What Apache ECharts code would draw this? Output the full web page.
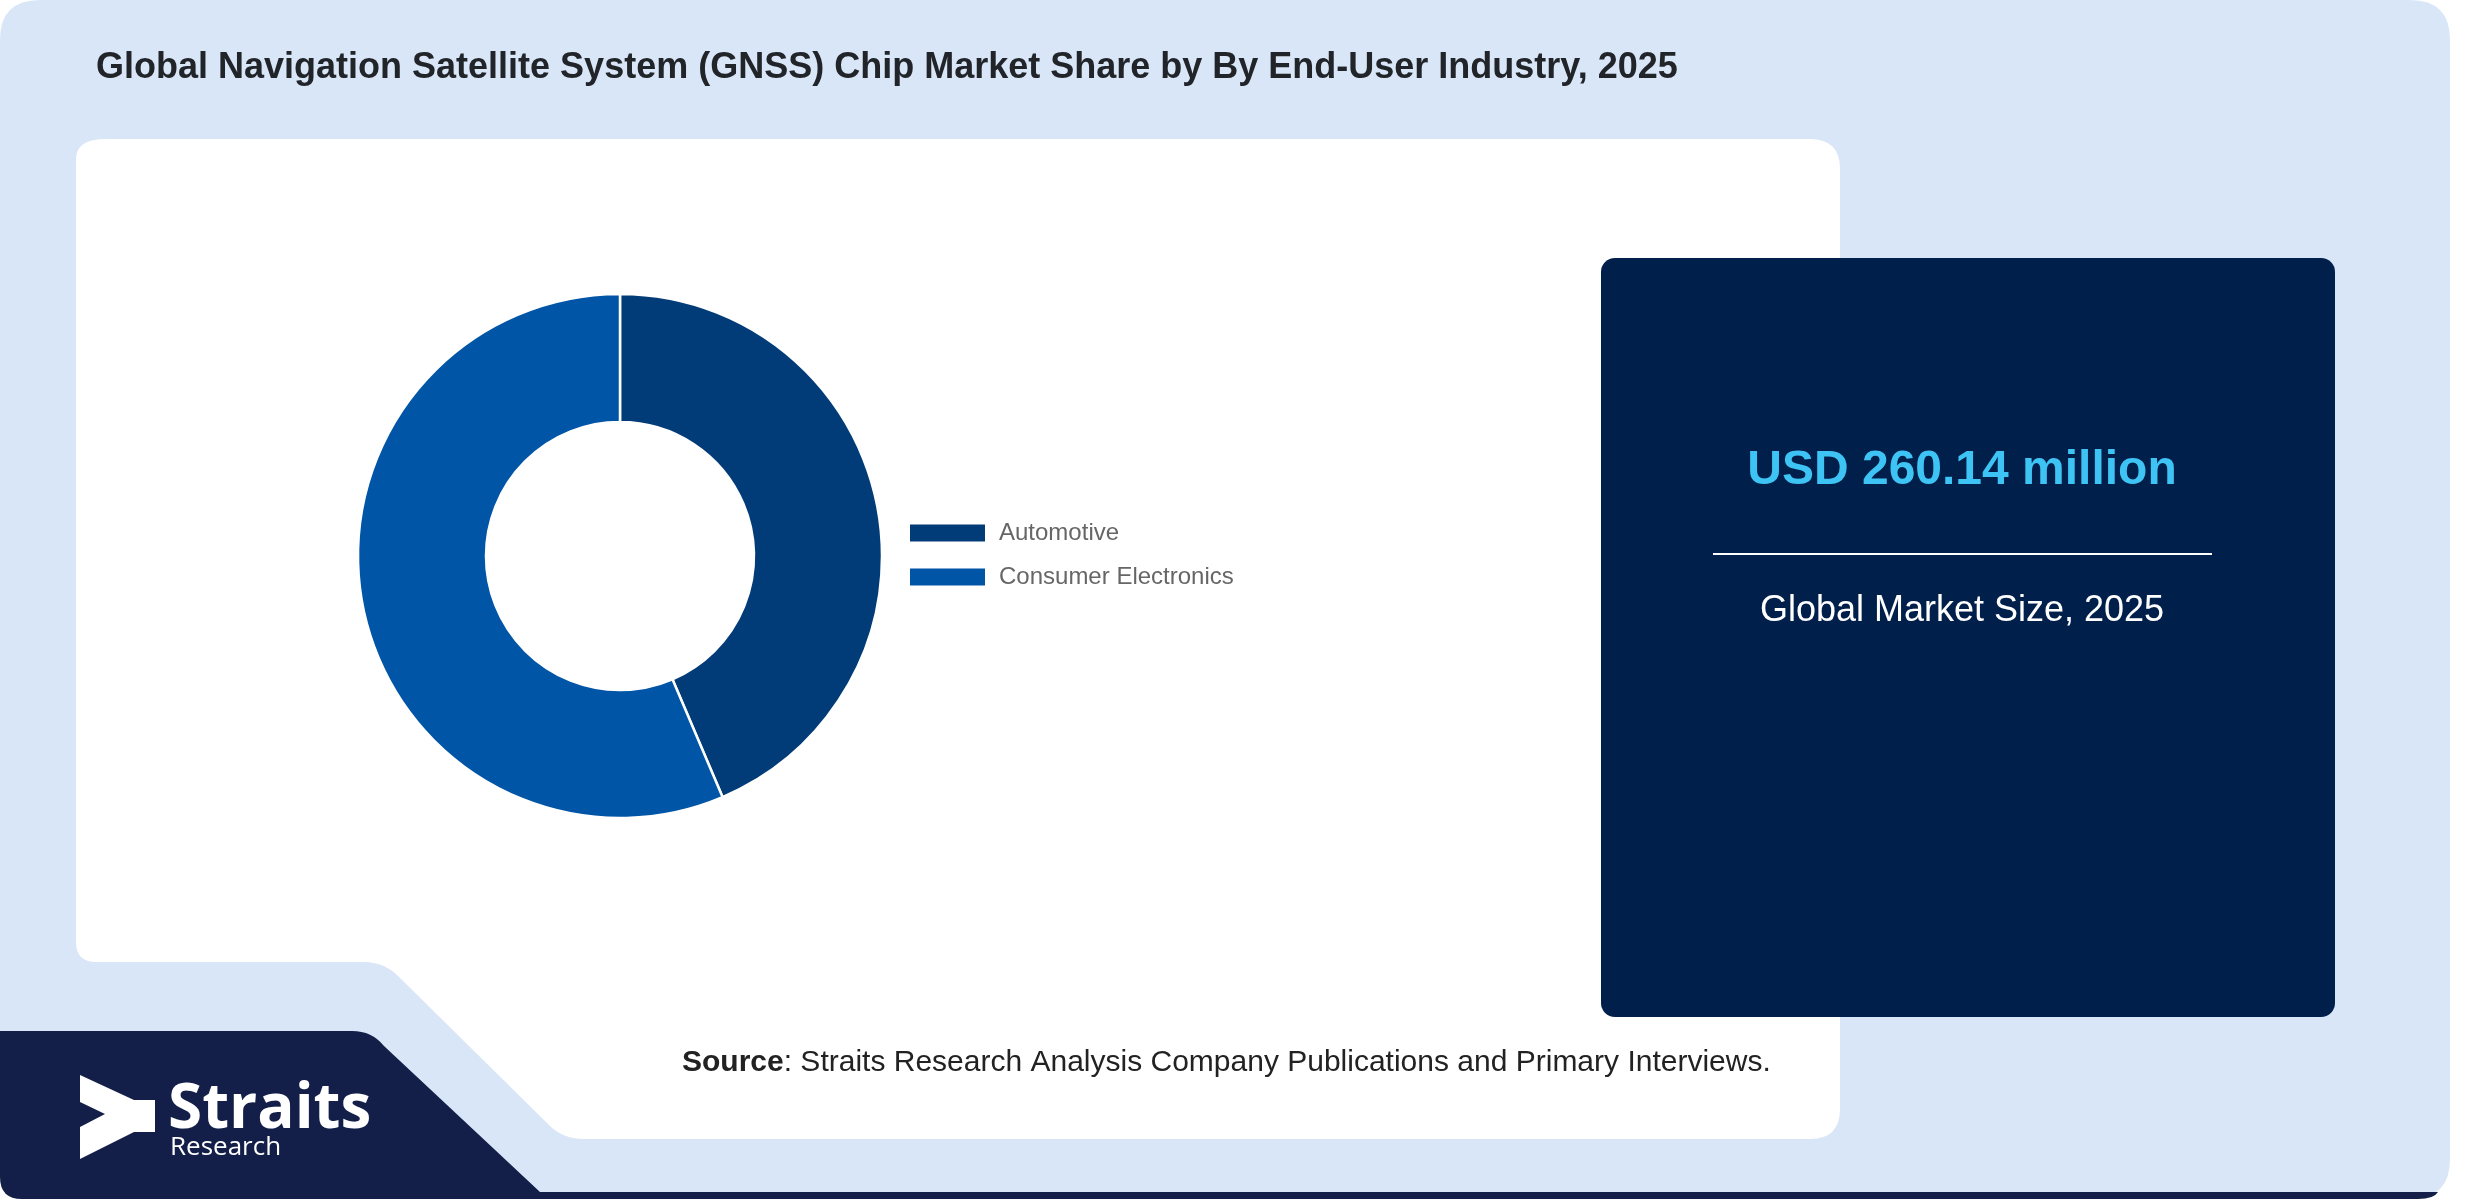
<!DOCTYPE html>
<html>
<head>
<meta charset="utf-8">
<script src="https://cdn.jsdelivr.net/npm/echarts@6/dist/echarts.min.js"></script>
<style>
  html, body { margin: 0; padding: 0; background: #ffffff; }
  #chart { width: 2480px; height: 1200px; }
</style>
</head>
<body>
<div id="chart"></div>
<script>
// ---- data ----
var titleText = 'Global Navigation Satellite System (GNSS) Chip Market Share by By End-User Industry, 2025';
var categories = ['Automotive', 'Consumer Electronics'];
var shares = [43.6, 56.4];
var sliceColors = ['#023c78', '#0055a6'];
var marketValueText = 'USD 260.14 million';
var marketLabelText = 'Global Market Size, 2025';
var sourceLead = 'Source';
var sourceText = ': Straits Research Analysis Company Publications and Primary Interviews.';
var brandName = 'Straits';
var brandSub = 'Research';

var chart = echarts.init(document.getElementById('chart'), null, { renderer: 'canvas' });

var pieData = categories.map(function (c, i) {
  return { name: c, value: shares[i], itemStyle: { color: sliceColors[i] } };
});

var panelPaths = [
  { d: 'M0 40 Q0 0 40 0 H2410 Q2450 0 2450 40 V1159 Q2450 1199 2410 1199 H40 Q0 1199 0 1159 Z', fill: '#d9e6f8' },
  { d: 'M106 139 H1810 Q1840 139 1840 169 V1109 Q1840 1139 1810 1139 H584 Q562 1139 548 1124 L398 976 Q384 962 364 962 H96 Q76 962 76 942 V159 Q76 139 106 139 Z', fill: '#ffffff' },
  { d: 'M0 1031 H352 Q372 1031 384 1046 L540 1192 H2438 Q2434 1199 2418 1199 H22 Q0 1199 0 1177 Z', fill: '#131f48' }
];

var option = {
  animation: false,
  title: {
    text: titleText,
    left: 91,
    top: 45,
    textStyle: { fontFamily: 'Liberation Sans, Arial, sans-serif', fontSize: 36, fontWeight: 'bold', color: '#212529' }
  },
  legend: {
    orient: 'vertical',
    left: 908,
    top: 521,
    padding: 0,
    icon: 'rect',
    itemWidth: 77,
    itemHeight: 19,
    itemGap: 20,
    selectedMode: false,
    data: categories,
    textStyle: { fontFamily: 'Liberation Sans, Arial, sans-serif', fontSize: 24, color: '#666666', padding: [0, 0, 0, 8] }
  },
  graphic: [
    { type: 'rect', z: -10, silent: true, shape: { x: 1601, y: 258, width: 734, height: 759, r: 14 }, style: { fill: '#001f4a' } },
    { type: 'text', z: 5, silent: true, x: 1962, y: 471,
      style: { text: marketValueText, textAlign: 'center', textVerticalAlign: 'middle', fill: '#3ec3f5',
        font: 'bold 48px "Liberation Sans", Arial, sans-serif' } },
    { type: 'line', z: 5, silent: true, shape: { x1: 1713, y1: 554, x2: 2212, y2: 554 }, style: { stroke: '#ffffff', lineWidth: 2 } },
    { type: 'text', z: 5, silent: true, x: 1962, y: 611,
      style: { text: marketLabelText, textAlign: 'center', textVerticalAlign: 'middle', fill: '#ffffff',
        font: '36px "Liberation Sans", Arial, sans-serif' } },
    { type: 'text', z: 5, silent: true, x: 682, y: 1063,
      style: { text: '{b|' + sourceLead + '}' + sourceText, textVerticalAlign: 'middle', fill: '#222222',
        font: '30px "Liberation Sans", Arial, sans-serif',
        rich: { b: { fontWeight: 'bold', fontSize: 30, fontFamily: 'Liberation Sans, Arial, sans-serif', fill: '#222222' } } } },
    { type: 'polygon', z: 5, silent: true,
      shape: { points: [[80, 1075], [134, 1100], [155, 1100], [155, 1132], [134, 1132], [80, 1159], [80, 1127], [105, 1114], [80, 1102]] },
      style: { fill: '#ffffff' } },
    { type: 'text', z: 5, silent: true, x: 168, y: 1141,
      style: { text: brandName, textVerticalAlign: 'bottom', fill: '#ffffff', font: 'bold 62px "Open Sans", sans-serif' } },
    { type: 'text', z: 5, silent: true, x: 170, y: 1148,
      style: { text: brandSub, textVerticalAlign: 'middle', fill: '#ffffff', font: '26px "Open Sans", sans-serif' } }
  ],
  series: [{
    type: 'custom',
    coordinateSystem: 'none',
    silent: true,
    z: -20,
    data: [0],
    renderItem: function () {
      return {
        type: 'group',
        children: panelPaths.map(function (p) {
          return { type: 'path', shape: { pathData: p.d }, style: { fill: p.fill } };
        })
      };
    }
  }, {
    type: 'pie',
    z: 3,
    center: [620, 556],
    radius: [134, 262],
    startAngle: 90,
    clockwise: true,
    avoidLabelOverlap: false,
    label: { show: false },
    labelLine: { show: false },
    emphasis: { disabled: true },
    itemStyle: { borderColor: '#ffffff', borderWidth: 2.5 },
    data: pieData
  }]
};
chart.setOption(option);
</script>
</body>
</html>
